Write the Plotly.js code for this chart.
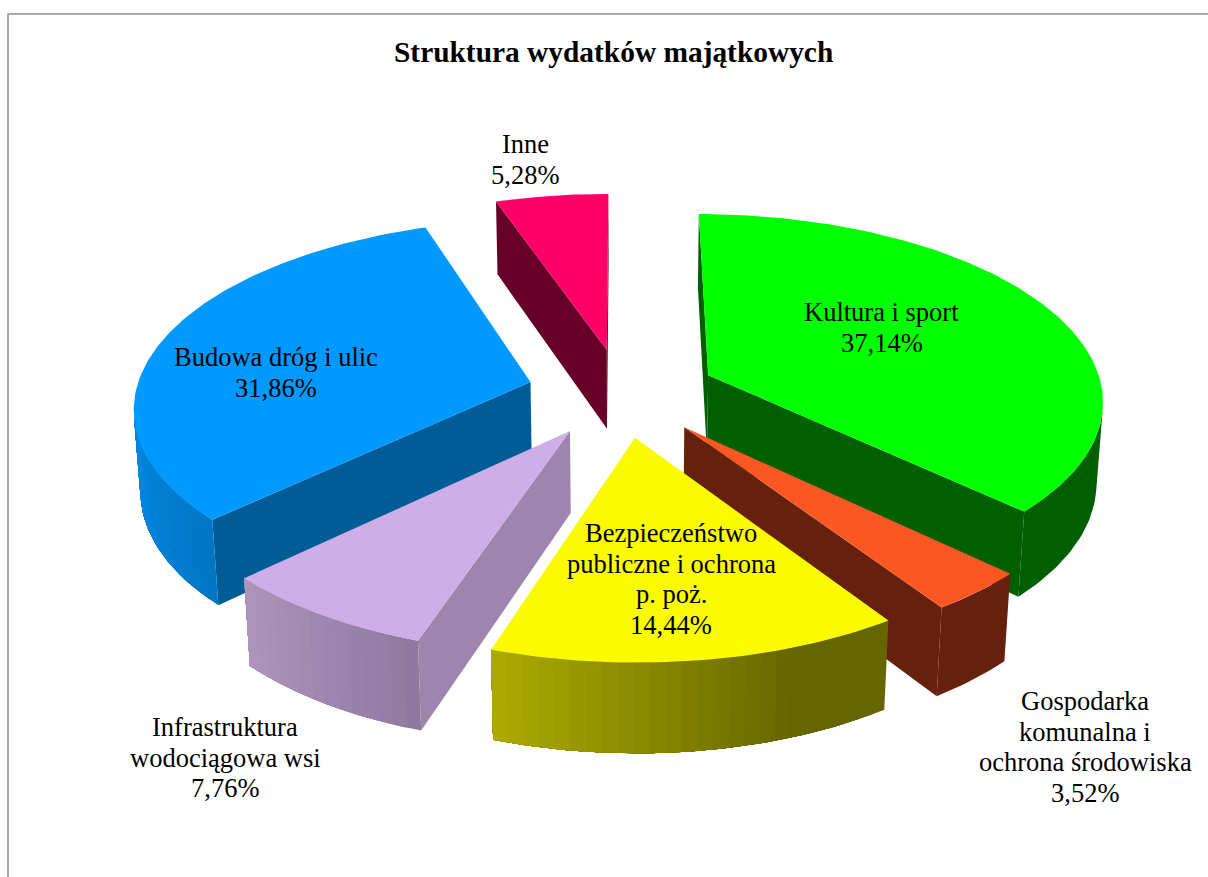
<!DOCTYPE html>
<html><head><meta charset="utf-8">
<script src="https://cdn.plot.ly/plotly-3.0.1.min.js"></script>
<style>html,body{margin:0;padding:0;background:#fff}#c{width:1208px;height:877px}</style>
</head><body><div id="c"></div>
<script>
const categories = ['Kultura i sport','Gospodarka|komunalna i|ochrona środowiska','Bezpieczeństwo|publiczne i ochrona|p. poż.','Infrastruktura|wodociągowa wsi','Budowa dróg i ulic','Inne'];
const values = [37.14,3.52,14.44,7.76,31.86,5.28];
const topColors = ['#00FF00','#FC5722','#FAFA00','#CEAEE6','#0099FF','#FF0066'];
const wallColors = ['#005F00','#65200E','#666600','#9E85AE','#005C96','#660029'];
const rimFrom = ['#005F00','#65200E','#666600','#8F789F','#0076C4','#660029'];
const rimTo = ['#005F00','#65200E','#ADAA00','#AD95BC','#0092F2','#660029'];
const rimSpan = [[0,360],[0,360],[160,198],[198,226],[226,275],[0,360]];
const drawOrder = [5,4,0,3,1,2];
const labelX = [881.5,1085,671,225,276,525];
const labelY = [312,701,533,727,357,144];

const view = {cx:622, cy:392.5, g:395, a:185, k:360, b:0.123, c:0.06, pull:0.24, h:0.227, lineGap:30.7};
function project(X,Y,Z){
  const w = 1 + view.b*Y - view.c*Z;
  return [view.cx + view.g*X/w, view.cy - (view.a*Y + view.k*Z)/w];
}
function hex(c){return [1,3,5].map(i=>parseInt(c.substr(i,2),16));}
function mix(c1,c2,t){const p=hex(c1),q=hex(c2);return 'rgb('+p.map((v,i)=>Math.round(v+(q[i]-v)*t)).join(',')+')';}
const traces = [];
function poly(pts,color){
  traces.push({type:'scatter',mode:'lines',x:pts.map(p=>p[0]).concat(pts[0][0]),y:pts.map(p=>p[1]).concat(pts[0][1]),
    fill:'toself',fillcolor:color,line:{color:color,width:0},hoverinfo:'skip',showlegend:false});
}
function wallCross(p,q,r){return (q[0]-p[0])*(r[1]-q[1])-(q[1]-p[1])*(r[0]-q[0]);}
const total = values.reduce((s,v)=>s+v,0);
let cum = 0;
const slices = values.map(v=>{const s={a0:cum/total*360,a1:(cum+v)/total*360};cum+=v;return s;});
const rad = d=>d*Math.PI/180;
drawOrder.forEach(i=>{
  const s = slices[i], mid = rad((s.a0+s.a1)/2);
  const ox = view.pull*Math.sin(mid), oy = view.pull*Math.cos(mid);
  const P = (deg,r,z)=>project(ox+r*Math.sin(rad(deg)), oy+r*Math.cos(rad(deg)), z);
  const h = -view.h;
  if(wallCross(P(0,0,0),P(s.a0,1,0),P(s.a0,1,h))<0) poly([P(0,0,0),P(s.a0,1,0),P(s.a0,1,h),P(0,0,h)],wallColors[i]);
  if(wallCross(P(0,0,0),P(s.a1,1,0),P(s.a1,1,h))>0) poly([P(0,0,0),P(s.a1,1,0),P(s.a1,1,h),P(0,0,h)],wallColors[i]);
  const n = Math.ceil(s.a1-s.a0), ang = j=>s.a0+(s.a1-s.a0)*j/n;
  const vis = [];
  for(let j=0;j<n;j++) if(wallCross(P(ang(j),1,0),P(ang(j+1),1,0),P(ang(j+1),1,h))<0) vis.push(j);
  if(vis.length){
    const last = vis[vis.length-1]+1;
    const uniform = rimFrom[i]===rimTo[i];
    const strideN = uniform ? vis.length : 2;
    for(let k=0;k<vis.length;k+=strideN){
      const start = vis[k];
      const mA = ang(start)+1;
      const t = Math.max(0,Math.min(1,(mA-rimSpan[i][0])/(rimSpan[i][1]-rimSpan[i][0])));
      const upper=[],lower=[];
      for(let j=start;j<=last;j++){upper.push(P(ang(j),1,0));lower.unshift(P(ang(j),1,h));}
      poly(upper.concat(lower),mix(rimFrom[i],rimTo[i],t));
    }
  }
  const top = [P(0,0,0)];
  for(let j=0;j<=n;j++) top.push(P(ang(j),1,0));
  poly(top,topColors[i]);
});
const fontFamily = '"Liberation Serif","Times New Roman",serif';
const annotations = [];
categories.forEach((c,i)=>{
  const lines = c.split('|').concat(values[i].toFixed(2).replace('.',',')+'%');
  lines.forEach((t,j)=>annotations.push({xref:'x',yref:'y',x:labelX[i],y:labelY[i]+j*view.lineGap,showarrow:false,
    xanchor:'center',yanchor:'middle',text:t,font:{family:fontFamily,size:26.5,color:'#000'}}));
});
annotations.push({xref:'x',yref:'y',x:613.5,y:52,showarrow:false,xanchor:'center',yanchor:'middle',
  text:'<b>Struktura wydatków majątkowych</b>',font:{family:fontFamily,size:29.4,color:'#000'}});
const layout = {
  width:1208,height:877,margin:{l:0,r:0,t:0,b:0},paper_bgcolor:'#fff',plot_bgcolor:'#fff',
  xaxis:{range:[0,1208],visible:false,fixedrange:true},
  yaxis:{range:[877,0],visible:false,fixedrange:true},
  annotations:annotations,
  shapes:[{type:'path',xref:'x',yref:'y',path:'M 8 877 L 8 14 L 1208 14',line:{color:'#8C8C8C',width:1.5}}]
};
Plotly.newPlot('c',traces,layout,{displayModeBar:false,staticPlot:true});
</script></body></html>
